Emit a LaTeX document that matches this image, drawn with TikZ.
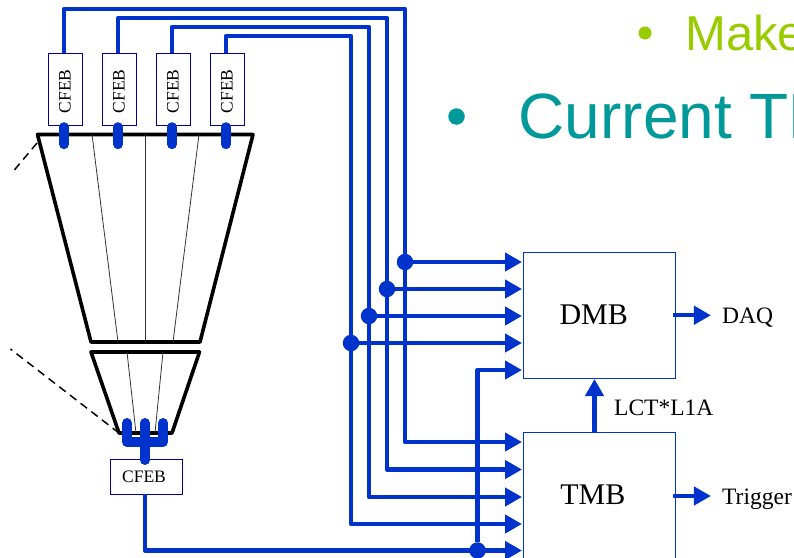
\documentclass[tikz,border=0pt]{standalone}
\usepackage{fontspec}
\setmainfont{Liberation Serif}
\newfontfamily\slidefont{Liberation Sans}
\usetikzlibrary{
	arrows.meta,
	positioning
}
\definecolor{cable}{HTML}{0033CC}
\definecolor{boxline}{HTML}{000099}
\definecolor{slidegreen}{HTML}{99CC00}
\definecolor{slideteal}{HTML}{009999}

\begin{document}
\begin{tikzpicture}[
			x=1pt, y=-1pt,
			febbox/.style={draw=boxline, line width=0.9pt, fill=white, inner sep=0pt, font=\fontsize{17.5}{20}\selectfont},
			febup/.style={febbox, minimum width=34pt, minimum height=72.5pt},
			feblow/.style={febbox, minimum width=72pt, minimum height=35pt},
			board/.style={draw=cable, line width=0.9pt, minimum width=152.5pt, minimum height=126.5pt, inner sep=0pt, font=\fontsize{30}{34}\selectfont},
			sig/.style={font=\fontsize{23.5}{28}\selectfont, inner sep=0pt, anchor=base west},
			fl/.style={draw=cable, line width=4.4pt, line join=round, -{Triangle[length=17pt, width=18pt]}},
			stub/.style={draw=cable, line width=10pt, line cap=round},
			tap/.style={circle, fill=cable, minimum size=16.5pt, inner sep=0pt},
			rim/.style={draw=black, line width=3.6pt, line join=round},
			seg/.style={draw=black!80, line width=0.8pt},
			lead/.style={draw=black, line width=1.5pt, dashed, dash pattern=on 8pt off 5.5pt}
		]
		\useasboundingbox (0,0) rectangle (794,557);

		% slide text behind the sketch
		\node[circle, fill=slidegreen, minimum size=13pt, inner sep=0pt] (b1) at (645,33) {};
		\node[anchor=base west, inner sep=0pt, text=slidegreen, font=\slidefont\fontsize{49}{54}\selectfont] (make) at (685,50) {Make};
		\node[circle, fill=slideteal, minimum size=16.5pt, inner sep=0pt] (b2) at (456.5,116.5) {};
		\node[anchor=base west, inner sep=0pt, text=slideteal, font=\slidefont\fontsize{64}{70}\selectfont] (current) at (518.5,138) {Current TM};

		% chamber outline
		\coordinate (t1) at (37.5,134.5);
		\coordinate (t2) at (253,134.5);
		\coordinate (t3) at (200,342);
		\coordinate (t4) at (91,342);
		\coordinate (u1) at (91,352);
		\coordinate (u2) at (199.5,352);
		\coordinate (u3) at (172,433);
		\coordinate (u4) at (119,433);
		\coordinate (near1) at (37,143);
		\coordinate (far1) at (11,174);
		\coordinate (far2) at (10.5,349);
		\draw[rim] (t1) -- (t2) -- (t3) -- (t4) -- cycle;
		\draw[rim] (u1) -- (u2) -- (u3) -- (u4) -- cycle;
		\draw[seg] (92,134.5) -- (118,342);
		\draw[seg] (145.5,134.5) -- (145.5,342);
		\draw[seg] (199,134.5) -- (173,342);
		\draw[seg] (127,352) -- (136,433);
		\draw[seg] (163,352) -- (155,433);
		\draw[lead] (near1) -- (far1);
		\draw[lead] (u4) -- (far2);

		% front end boards
		\node[febup] (c1) at (65,89.5) {\rotatebox{90}{CFEB\hspace*{4pt}}};
		\node[febup, right=19.1pt of c1] (c2) {\rotatebox{90}{CFEB\hspace*{4pt}}};
		\node[febup, right=19.1pt of c2] (c3) {\rotatebox{90}{CFEB\hspace*{4pt}}};
		\node[febup, right=19.1pt of c3] (c4) {\rotatebox{90}{CFEB\hspace*{4pt}}};
		\node[feblow] (c5) at (146.5,476.5) {\raisebox{-1.5pt}{CFEB}\hspace*{5pt}};

		\draw[stub] (c1.south) ++(-1,1) -- ++(0,17);
		\draw[stub] (c2.south) ++(-1,1) -- ++(0,17);
		\draw[stub] (c3.south) ++(-1,1) -- ++(0,17);
		\draw[stub] (c4.south) ++(-1,1) -- ++(0,17);

		% fork
		\draw[stub, line join=round] (127,423) -- (127,442) -- (163,442) -- (163,423);
		\draw[stub] (145,423) -- (145,460);

		% boards
		\node[board] (dmb) at (599.25,315.25) {\raisebox{1.5pt}{DMB}\hspace*{11pt}};
		\node[board] (tmb) at (599.25,496) {\raisebox{2.5pt}{TMB}\hspace*{13pt}};

		% cables
		\draw[fl] (64,53) -- (64,9) -- (405,9) -- (405,442) -- (522,442);
		\draw[fl] (118,53) -- (118,18) -- (387,18) -- (387,469.5) -- (522,469.5);
		\draw[fl] (172,53) -- (172,27) -- (369,27) -- (369,497) -- (522,497);
		\draw[fl] (226,53) -- (226,36) -- (351,36) -- (351,524) -- (522,524);
		\node[tap] (n1) at (405,262) {};
		\node[tap] (n2) at (387,289) {};
		\node[tap] (n3) at (369,316) {};
		\node[tap] (n4) at (351,343) {};
		\node[tap] (n5) at (477.5,550.5) {};
		\draw[fl] (n1) -- (522,262);
		\draw[fl] (n2) -- (522,289);
		\draw[fl] (n3) -- (522,316);
		\draw[fl] (n4) -- (522,343);
		\draw[fl] (c5.south) ++(-1.5,0) |- (522,550.5);
		\draw[fl] (n5) -- (477.5,370) -- (522,370);

		% outputs
		\node[sig] (daq) at (722,323) {DAQ};
		\node[sig] (trg) at (722,504) {Trigger};
		\node[sig] (lct) at (614,415.5) {LCT*L1A};
		\draw[fl] (dmb.east) ++(-3,0) -- ++(38,0);
		\draw[fl] (tmb.east) ++(-3,0) -- ++(38,0);
		\draw[fl] (tmb.north) ++(-4.75,1) -- (594.5,379);
	\end{tikzpicture}
\end{document}
